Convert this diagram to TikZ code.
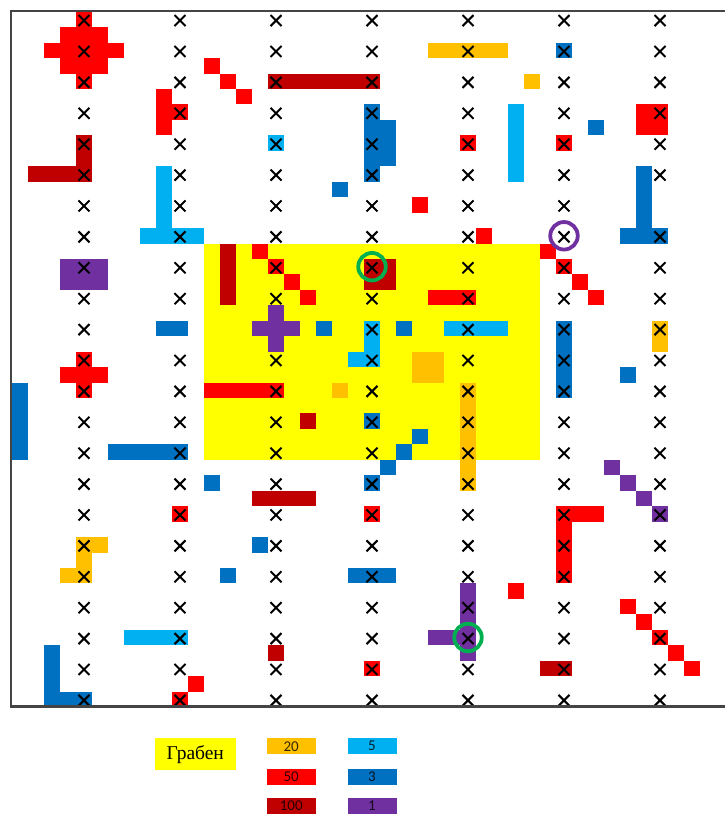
\documentclass[tikz,border=0pt]{standalone}
\usepackage{fontspec}
\setmainfont{Liberation Serif}
\newfontfamily\carl{Carlito}
\usetikzlibrary{shapes.misc}
\definecolor{cOr}{HTML}{FFC000}
\definecolor{cRd}{HTML}{FF0000}
\definecolor{cDr}{HTML}{C00000}
\definecolor{cLb}{HTML}{00B0F0}
\definecolor{cBl}{HTML}{0070C0}
\definecolor{cPu}{HTML}{7030A0}
\definecolor{cYe}{HTML}{FFFF00}
\definecolor{cGr}{HTML}{00B050}
\definecolor{cFrame}{HTML}{444444}
\newcommand\cellblk[5]{\fill[#1] ({#2-0.5},{#3-0.5}) rectangle ({#4+0.5},{#5+0.5});}
\newcommand\onecell[3]{\cellblk{#1}{#2}{#3}{#2}{#3}}
\tikzset{
  xmark/.style={cross out, draw=black, line width=2pt, minimum size=9pt, inner sep=0pt},
  ring/.style={circle, draw=#1, line width=3.8pt, minimum size=27.5pt, inner sep=0pt},
  lgbox/.style={minimum width=49pt, minimum height=15.7pt, inner sep=0pt,
    font=\carl\fontsize{15}{15}\selectfont, text=black, text opacity=0.8}
}
\begin{document}
\begin{tikzpicture}[x=1pt,y=-1pt]
\useasboundingbox (0,0) rectangle (725,814);
\fill[white] (0,0) rectangle (725,814);
\begin{scope}[shift={(84,19.5)},x=16pt,y=-15.45pt]
% graben
\cellblk{cYe}{8}{15}{28}{28}
% red 50
\onecell{cRd}{0}{0}\cellblk{cRd}{-1}{1}{1}{1}\cellblk{cRd}{-2}{2}{2}{2}\cellblk{cRd}{-1}{3}{1}{3}\onecell{cRd}{0}{4}
\onecell{cRd}{8}{3}\onecell{cRd}{9}{4}\onecell{cRd}{10}{5}
\cellblk{cRd}{5}{5}{5}{7}\onecell{cRd}{6}{6}
\onecell{cRd}{21}{12}\onecell{cRd}{24}{8}\onecell{cRd}{25}{14}\onecell{cRd}{30}{8}
\cellblk{cRd}{35}{6}{36}{7}
\cellblk{cRd}{0}{22}{0}{24}\cellblk{cRd}{-1}{23}{1}{23}
\cellblk{cRd}{8}{24}{12}{24}
\onecell{cRd}{11}{15}\onecell{cRd}{12}{16}\onecell{cRd}{13}{17}\onecell{cRd}{14}{18}
\cellblk{cRd}{22}{18}{24}{18}
\onecell{cRd}{29}{15}\onecell{cRd}{30}{16}\onecell{cRd}{31}{17}\onecell{cRd}{32}{18}
\onecell{cRd}{6}{32}\onecell{cRd}{18}{32}\onecell{cRd}{6}{44}\onecell{cRd}{7}{43}
\onecell{cRd}{18}{42}\onecell{cRd}{27}{37}
\cellblk{cRd}{30}{32}{30}{36}\cellblk{cRd}{31}{32}{32}{32}
\onecell{cRd}{34}{38}\onecell{cRd}{35}{39}\onecell{cRd}{36}{40}\onecell{cRd}{37}{41}\onecell{cRd}{38}{42}
% dark red 100
\cellblk{cDr}{0}{8}{0}{10}\cellblk{cDr}{-3}{10}{-1}{10}
\cellblk{cDr}{12}{4}{18}{4}
\cellblk{cDr}{9}{15}{9}{18}
\cellblk{cDr}{18}{16}{19}{17}
\onecell{cDr}{14}{26}
\cellblk{cDr}{11}{31}{14}{31}
\onecell{cDr}{12}{41}
\cellblk{cDr}{29}{42}{30}{42}
% orange 20
\cellblk{cOr}{22}{2}{26}{2}
\onecell{cOr}{28}{4}
\cellblk{cOr}{21}{22}{22}{23}
\onecell{cOr}{16}{24}
\cellblk{cOr}{24}{24}{24}{30}
\cellblk{cOr}{36}{20}{36}{21}
\cellblk{cOr}{0}{34}{1}{34}\onecell{cOr}{0}{35}\cellblk{cOr}{-1}{36}{0}{36}
% light blue 5
\onecell{cLb}{12}{8}
\cellblk{cLb}{5}{10}{5}{13}\cellblk{cLb}{4}{14}{7}{14}
\cellblk{cLb}{27}{6}{27}{10}
\cellblk{cLb}{18}{20}{18}{22}\onecell{cLb}{17}{22}
\cellblk{cLb}{23}{20}{26}{20}
\cellblk{cLb}{3}{40}{6}{40}
% blue 3
\cellblk{cBl}{18}{6}{18}{10}\cellblk{cBl}{19}{7}{19}{9}
\onecell{cBl}{16}{11}\onecell{cBl}{30}{2}\onecell{cBl}{32}{7}
\cellblk{cBl}{35}{10}{35}{13}\cellblk{cBl}{34}{14}{36}{14}
\cellblk{cBl}{5}{20}{6}{20}
\cellblk{cBl}{-4}{24}{-4}{28}
\cellblk{cBl}{2}{28}{6}{28}
\onecell{cBl}{15}{20}\onecell{cBl}{20}{20}\onecell{cBl}{18}{26}
\onecell{cBl}{21}{27}\onecell{cBl}{20}{28}\onecell{cBl}{19}{29}\onecell{cBl}{18}{30}
\cellblk{cBl}{30}{20}{30}{24}
\onecell{cBl}{34}{23}\onecell{cBl}{8}{30}\onecell{cBl}{11}{34}\onecell{cBl}{9}{36}
\cellblk{cBl}{17}{36}{19}{36}
\cellblk{cBl}{-2}{41}{-2}{44}\cellblk{cBl}{-1}{44}{0}{44}
% purple 1
\cellblk{cPu}{-1}{16}{1}{17}
\cellblk{cPu}{12}{19}{12}{21}\cellblk{cPu}{11}{20}{13}{20}
\onecell{cPu}{33}{29}\onecell{cPu}{34}{30}\onecell{cPu}{35}{31}\onecell{cPu}{36}{32}
\cellblk{cPu}{24}{37}{24}{41}\cellblk{cPu}{22}{40}{23}{40}
% crosses
\def\skipA{6-6}\def\skipB{2-10}\def\skipC{1-10}
\foreach \c in {0,...,6}{\foreach \k in {0,...,22}{%
  \edef\xtag{\c-\k}%
  \ifx\xtag\skipA\else\ifx\xtag\skipB\else\ifx\xtag\skipC\else
    \node[xmark] (x-\c-\k) at ({6*\c},{2*\k+0.07}) {};
  \fi\fi\fi}}
% rings
\node[ring=cPu] (ringP) at (30,14) {};
\node[ring=cGr] (ringG1) at (18,16) {};
\node[ring=cGr] (ringG2) at (24,40) {};
\end{scope}
% frame
\draw[cFrame, line width=2.4pt] (740,11) -- (11,11) -- (11,706.5) -- (740,706.5);
% legend
\node[fill=cYe, minimum width=80.7pt, minimum height=31.7pt, inner sep=0pt,
  font=\fontsize{19.5}{21}\selectfont] (lgYe) at (195.3,754.2) {Грабен};
\node[lgbox, fill=cOr] (lg20) at (291.2,746.2) {20};
\node[lgbox, fill=cRd] (lg50) at (291.2,776.7) {50};
\node[lgbox, fill=cDr] (lg100) at (291.2,806) {100};
\node[lgbox, fill=cLb] (lg5) at (372,746.2) {5};
\node[lgbox, fill=cBl] (lg3) at (372,776.7) {3};
\node[lgbox, fill=cPu] (lg1) at (372,806) {1};
\end{tikzpicture}
\end{document}
